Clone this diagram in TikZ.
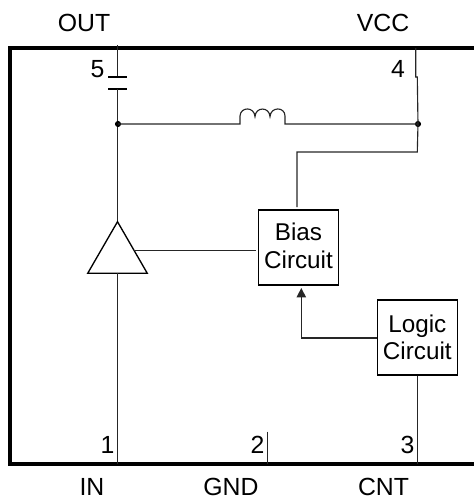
\documentclass[tikz,border=0pt]{standalone}
\usepackage{fontspec}
\setmainfont{Liberation Sans}
\usetikzlibrary{arrows.meta}
\begin{document}
\begin{tikzpicture}[x=0.75pt,y=-0.75pt,
  wire/.style={line width=0.85pt,black!85},
  frame/.style={line width=3pt,black},
  capplate/.style={line width=1.3pt,black},
  blockbox/.style={draw,line width=1.1pt,minimum width=60pt,minimum height=56.25pt,inner sep=0pt,align=center,font=\fontsize{18.2pt}{20.6pt}\selectfont},
  pinlabel/.style={inner sep=0pt,font=\fontsize{18.6pt}{20pt}\selectfont},
  junction/.style={circle,fill=black,inner sep=0pt,minimum size=4.6pt}]
\useasboundingbox (0,0) rectangle (474,501);
\draw[frame] (474,47.7) -- (10.3,47.7) -- (10.3,464) -- (474,464);
\node[pinlabel] (lout) at (84,22.5) {OUT};
\node[pinlabel] (lvcc) at (383,22.5) {VCC};
\node[pinlabel] (lin) at (92,486.5) {IN};
\node[pinlabel] (lgnd) at (231,486.5) {GND};
\node[pinlabel] (lcnt) at (383.5,486.5) {CNT};
\node[pinlabel] (p5) at (97.5,69) {5};
\node[pinlabel] (p4) at (398,69) {4};
\node[pinlabel] (p1) at (107.5,445) {1};
\node[pinlabel] (p2) at (257.5,445) {2};
\node[pinlabel] (p3) at (407.5,445) {3};
\node[blockbox,text depth=3pt] (bias) at (298.5,247.5) {Bias\\Circuit};
\node[blockbox] (logic) at (417.3,337.5) {Logic\\Circuit};
\coordinate (outtop) at (117.5,45);
\coordinate (capa) at (117.5,77.3);
\coordinate (capb) at (117.5,89);
\coordinate (jl) at (118,124);
\coordinate (jr) at (418,124);
\coordinate (vcctop) at (415.7,48);
\coordinate (tl) at (87.7,273.3);
\coordinate (tr) at (147.3,273.3);
\coordinate (tt) at (117.5,221.7);
\coordinate (in) at (117.5,464);
\coordinate (gndtop) at (267.5,431.7);
\coordinate (gnd) at (267.5,464);
\coordinate (cnt) at (417.5,464);
\draw[wire] (outtop) -- (capa);
\draw[capplate] (108.3,77.3) -- (127.3,77.3);
\draw[capplate] (108.3,89) -- (127.3,89);
\draw[wire] (capb) -- (tt);
\node[junction] (jleft) at (jl) {};
\node[junction] (jright) at (jr) {};
\draw[wire] (jleft.center) -- (240,124) -- (240,116)
  .. controls (240.5,106.5) and (254.5,106.5) .. (255,116.7)
  .. controls (255.5,106.5) and (269.5,106.5) .. (270,116.7)
  .. controls (270.5,106.5) and (285,106.5) .. (285,116)
  -- (285,124) -- (jright.center);
\draw[wire] (vcctop) -- (415.7,77) -- (417.3,77) -- (jright.center) -- (417.3,152) -- (297,152) -- (297,207);
\draw[line width=1pt,fill=white] (tl) -- (tr) -- (tt) -- cycle;
\draw[wire,shorten >=1.5pt] (134.2,250.7) -- (bias.west |- 0,250.7);
\draw[wire] (117.5,273.3) -- (in);
\draw[wire] (gndtop) -- (gnd);
\draw[wire] (logic.south -| cnt) -- (cnt);
\draw[wire,-{Triangle[length=7pt,width=7pt]}] (logic.west |- 0,338) -- (301.3,338) -- (301.3,288);
\end{tikzpicture}
\end{document}
